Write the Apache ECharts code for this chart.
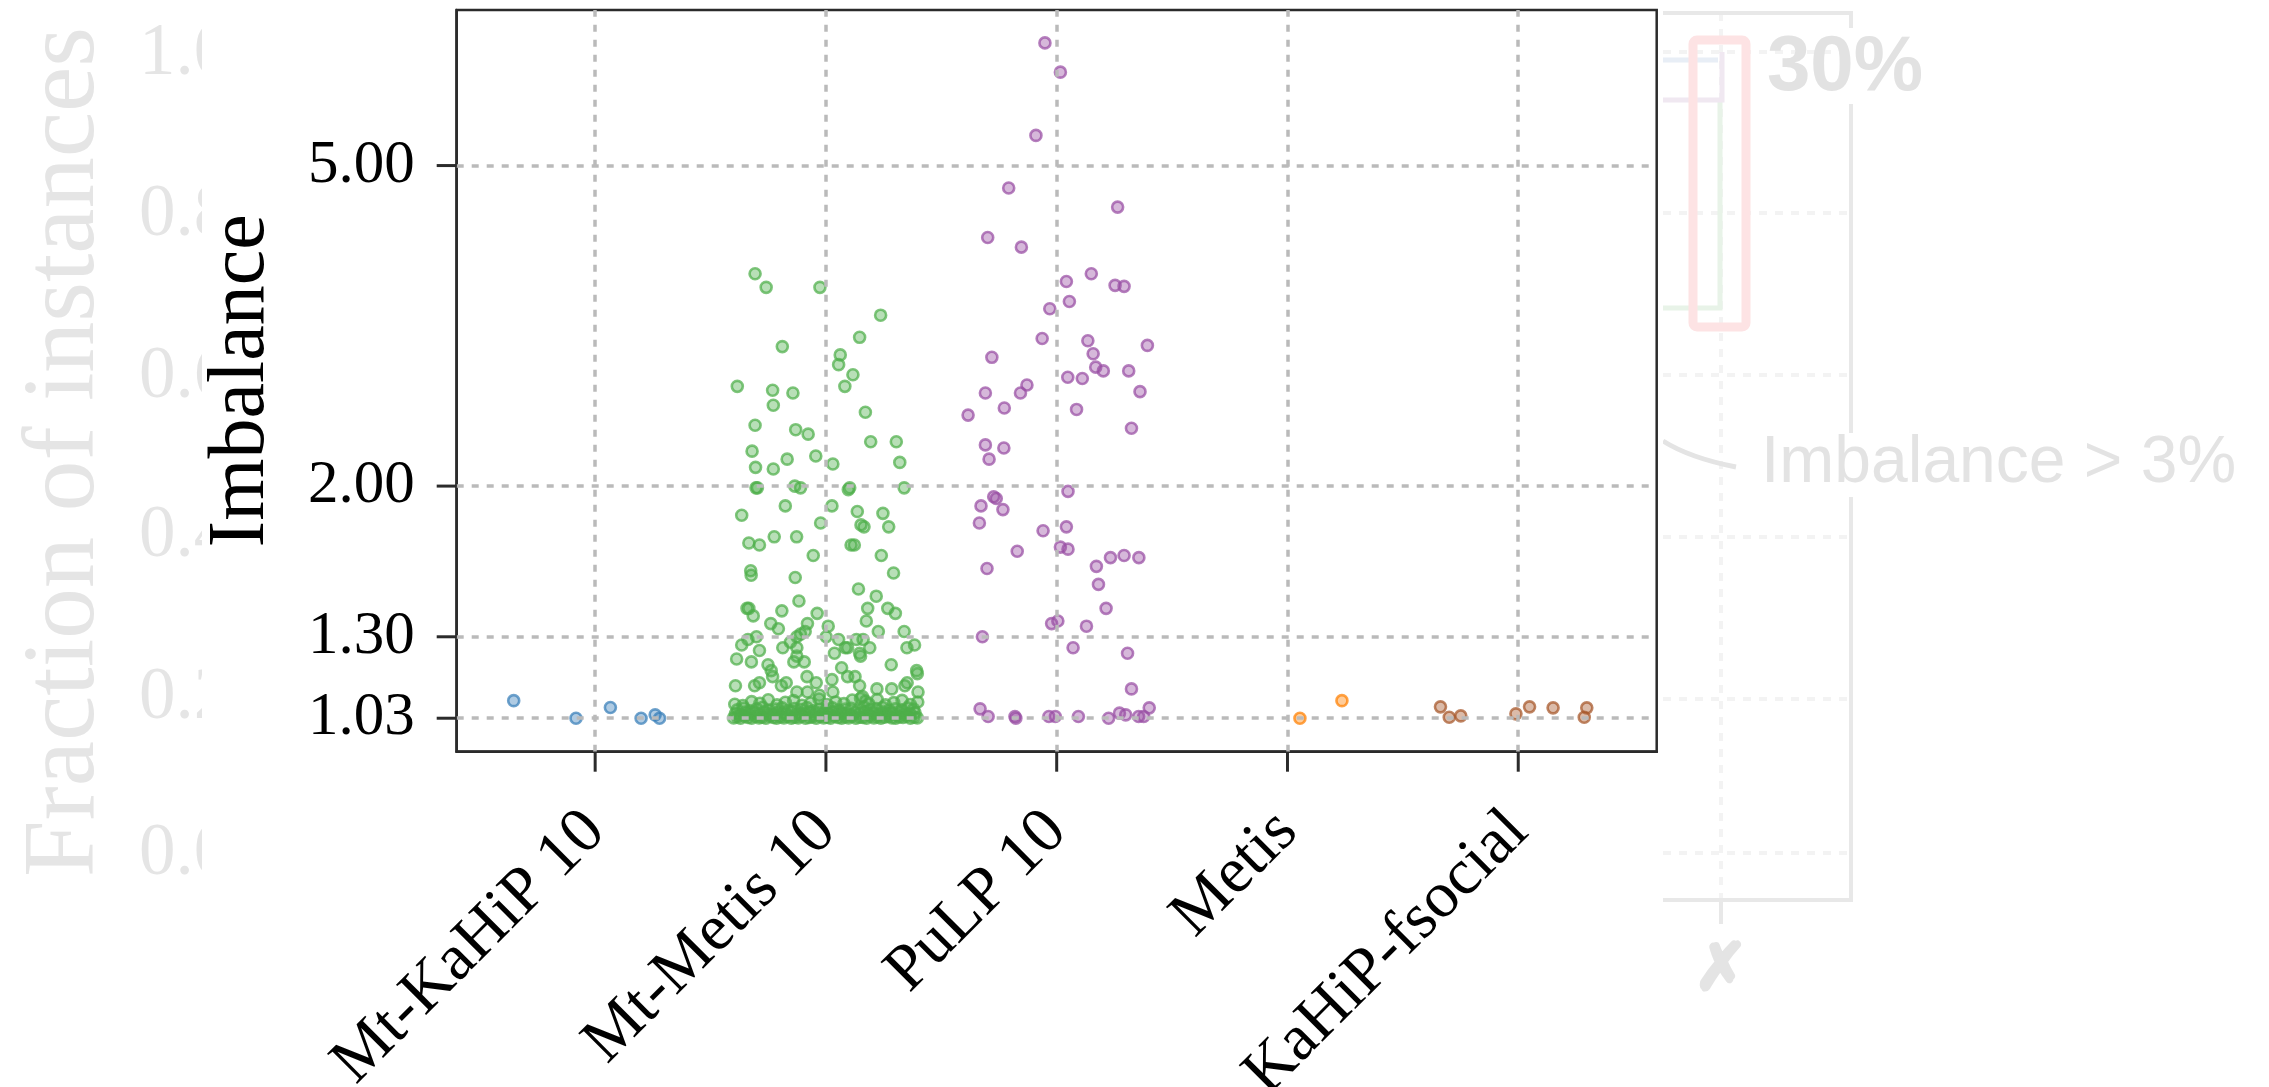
<!DOCTYPE html>
<html>
<head>
<meta charset="utf-8">
<script src="https://cdn.jsdelivr.net/npm/echarts@6/dist/echarts.min.js"></script>
<style>
  html, body { margin: 0; padding: 0; background: #fff; }
  #chart { width: 2269px; height: 1087px; }
</style>
</head>
<body>
<div id="chart"></div>
<script>
// Partitioners along the x axis, and the imbalance ticks on the log y axis
const categories = ['Mt-KaHiP 10', 'Mt-Metis 10', 'PuLP 10', 'Metis', 'KaHiP-fsocial'];
const yTicks = [1.03, 1.30, 2.00, 5.00];

// Mt-KaHiP 10 (strip jitter around its category, imbalance per instance)
const kahip10Jitter = [-0.353, -0.083, 0.066, 0.199, 0.260, 0.279];
const kahip10Imbalance = [1.083, 1.030, 1.062, 1.030, 1.040, 1.030];

// Mt-Metis 10: scattered instances above the 3% bound
const metis10SpreadJitter = [
  -0.307, -0.259, -0.026, 0.237, 0.146, -0.189, 0.062, 0.055, 0.117, -0.384,
  -0.231, -0.143, 0.082, -0.228, 0.171, -0.307, -0.131, -0.077, 0.194, 0.305,
  -0.320, -0.168, -0.044, 0.030, 0.320, -0.305, -0.228, -0.303, -0.297, -0.135,
  -0.110, 0.097, 0.103, 0.339, -0.176, 0.026, -0.365, 0.136, 0.247, -0.023,
  0.152, 0.165, 0.272, -0.334, -0.288, -0.224, -0.127, 0.109, 0.123, -0.055,
  0.240, -0.326, -0.324, -0.133, 0.293, 0.141, -0.117, 0.218, -0.342, -0.334,
  -0.315, -0.191, -0.038, 0.181, 0.268, 0.301, 0.175, -0.239, -0.206, -0.080,
  -0.090, -0.110, -0.126, 0.010, 0.227, 0.339, -0.301, -0.338, -0.365, 0.001,
  0.055, 0.132, 0.161, -0.154, -0.126, -0.187, 0.084, 0.094, 0.190, 0.384,
  0.351, -0.288, -0.387, -0.323, -0.139, -0.094, -0.126, 0.037, 0.146, 0.150,
  0.283, -0.251, -0.237, -0.231, 0.068, 0.393, 0.396, -0.082, 0.026, 0.094,
  0.126, -0.172, -0.042, 0.352, 0.342, -0.392, -0.309, -0.288, -0.193, 0.146,
  0.221, 0.285, 0.399, -0.126, -0.080, -0.028, 0.030
];
const metis10SpreadImbalance = [
  3.67, 3.53, 3.53, 3.26, 3.06, 2.98, 2.91, 2.83, 2.75, 2.66,
  2.63, 2.61, 2.66, 2.52, 2.47, 2.38, 2.35, 2.32, 2.27, 2.27,
  2.21, 2.16, 2.18, 2.13, 2.14, 2.11, 2.10, 1.99, 1.99, 2.00,
  1.99, 1.98, 1.99, 1.99, 1.89, 1.89, 1.84, 1.86, 1.85, 1.80,
  1.79, 1.78, 1.78, 1.70, 1.69, 1.73, 1.73, 1.69, 1.69, 1.64,
  1.64, 1.57, 1.55, 1.54, 1.56, 1.49, 1.44, 1.46, 1.41, 1.41,
  1.38, 1.40, 1.39, 1.41, 1.41, 1.39, 1.36, 1.35, 1.33, 1.35,
  1.32, 1.31, 1.30, 1.34, 1.32, 1.32, 1.30, 1.29, 1.27, 1.30,
  1.29, 1.29, 1.29, 1.28, 1.26, 1.26, 1.26, 1.26, 1.26, 1.27,
  1.26, 1.25, 1.22, 1.21, 1.21, 1.21, 1.23, 1.24, 1.24, 1.23,
  1.20, 1.20, 1.18, 1.16, 1.19, 1.18, 1.17, 1.16, 1.15, 1.16,
  1.16, 1.14, 1.14, 1.14, 1.13, 1.13, 1.13, 1.14, 1.13, 1.13,
  1.12, 1.12, 1.11, 1.11, 1.11, 1.10, 1.11
];

// Mt-Metis 10: the dense band of instances close to the 3% bound
const metis10BandJitter = [
  -0.400, -0.385, -0.370, -0.352, -0.338, -0.322, -0.305, -0.290, -0.276, -0.260,
  -0.244, -0.228, -0.214, -0.198, -0.182, -0.166, -0.150, -0.136, -0.120, -0.104,
  -0.088, -0.072, -0.058, -0.042, -0.026, -0.010, 0.006, 0.020, 0.036, 0.052,
  0.068, 0.082, 0.098, 0.114, 0.130, 0.146, 0.160, 0.176, 0.192, 0.208,
  0.224, 0.238, 0.254, 0.270, 0.286, 0.302, 0.318, 0.334, 0.350, 0.366,
  0.382, 0.396,
  -0.392, -0.370, -0.348, -0.330, -0.310, -0.290, -0.268, -0.250, -0.230, -0.210,
  -0.190, -0.170, -0.148, -0.128, -0.110, -0.090, -0.070, -0.050, -0.030, -0.012,
  0.010, 0.030, 0.048, 0.068, 0.088, 0.108, 0.126, 0.146, 0.166, 0.186,
  0.206, 0.226, 0.246, 0.266, 0.284, 0.304, 0.324, 0.344, 0.364, 0.386,
  -0.384, -0.356, -0.330, -0.300, -0.274, -0.246, -0.218, -0.190, -0.164, -0.136,
  -0.108, -0.082, -0.054, -0.026, 0.000, 0.028, 0.056, 0.084, 0.110, 0.138,
  0.164, 0.192, 0.218, 0.246, 0.274, 0.300, 0.328, 0.354, 0.380,
  -0.395, -0.360, -0.322, -0.286, -0.250, -0.212, -0.176, -0.140, -0.104, -0.066,
  -0.030, 0.006, 0.042, 0.078, 0.114, 0.150, 0.158, 0.172, 0.186, 0.222,
  0.258, 0.294, 0.330, 0.366, 0.398
];
const metis10BandImbalance = [
  1.031, 1.034, 1.030, 1.036, 1.032, 1.030, 1.035, 1.031, 1.033, 1.030,
  1.036, 1.032, 1.030, 1.034, 1.031, 1.035, 1.030, 1.033, 1.031, 1.036,
  1.030, 1.032, 1.034, 1.030, 1.035, 1.031, 1.033, 1.030, 1.036, 1.032,
  1.030, 1.034, 1.031, 1.035, 1.030, 1.033, 1.032, 1.030, 1.036, 1.031,
  1.034, 1.030, 1.033, 1.035, 1.031, 1.030, 1.034, 1.032, 1.036, 1.030,
  1.033, 1.031,
  1.044, 1.040, 1.048, 1.042, 1.046, 1.041, 1.049, 1.043, 1.040, 1.047,
  1.044, 1.042, 1.048, 1.041, 1.045, 1.043, 1.049, 1.040, 1.046, 1.042,
  1.044, 1.048, 1.041, 1.045, 1.043, 1.040, 1.047, 1.044, 1.049, 1.042,
  1.046, 1.041, 1.048, 1.043, 1.045, 1.040, 1.047, 1.042, 1.044, 1.046,
  1.055, 1.060, 1.052, 1.058, 1.063, 1.054, 1.057, 1.061, 1.053, 1.059,
  1.056, 1.062, 1.052, 1.058, 1.055, 1.061, 1.054, 1.057, 1.060, 1.053,
  1.064, 1.056, 1.059, 1.062, 1.054, 1.058, 1.055, 1.061, 1.057,
  1.072, 1.068, 1.080, 1.075, 1.086, 1.070, 1.078, 1.083, 1.069, 1.076,
  1.088, 1.071, 1.079, 1.074, 1.085, 1.090, 1.096, 1.082, 1.073, 1.087,
  1.070, 1.077, 1.084, 1.071, 1.079
];

// PuLP 10
const pulp10Jitter = [
  -0.051, 0.016, -0.090, -0.208, 0.264, -0.299, -0.153, 0.150, 0.042, 0.253,
  0.292, 0.055, -0.030, -0.063, 0.135, -0.281, 0.158, 0.169, 0.202, 0.312,
  0.048, 0.111, -0.129, -0.309, -0.157, 0.361, 0.393, -0.384, -0.227, 0.086,
  0.324, -0.309, -0.229, -0.293, 0.049, -0.328, -0.273, -0.262, -0.233, -0.335,
  -0.059, 0.042, 0.016, 0.049, -0.171, -0.302, 0.172, 0.233, 0.292, 0.356,
  0.181, 0.214, -0.022, 0.005, 0.129, -0.322, 0.071, 0.307, 0.324, -0.332,
  -0.297, -0.181, -0.177, -0.034, -0.006, 0.094, 0.225, 0.272, 0.299, 0.355,
  0.377, 0.401
];
const pulp10Imbalance = [
  7.10, 6.53, 5.45, 4.69, 4.44, 4.07, 3.96, 3.67, 3.59, 3.55,
  3.54, 3.39, 3.32, 3.05, 3.03, 2.89, 2.92, 2.81, 2.78, 2.78,
  2.73, 2.72, 2.67, 2.61, 2.61, 2.62, 2.99, 2.45, 2.50, 2.49,
  2.36, 2.25, 2.23, 2.16, 1.97, 1.89, 1.94, 1.93, 1.87, 1.80,
  1.76, 1.78, 1.68, 1.67, 1.66, 1.58, 1.59, 1.63, 1.64, 1.63,
  1.51, 1.41, 1.35, 1.36, 1.34, 1.30, 1.26, 1.24, 1.12, 1.058,
  1.035, 1.035, 1.030, 1.035, 1.035, 1.035, 1.030, 1.045, 1.040, 1.035,
  1.035, 1.061
];

// Metis
const metisJitter = [0.054, 0.236];
const metisImbalance = [1.030, 1.083];

// KaHiP-fsocial
const fsocialJitter = [-0.337, -0.299, -0.249, -0.010, 0.049, 0.151, 0.286, 0.297];
const fsocialImbalance = [1.064, 1.033, 1.037, 1.043, 1.064, 1.061, 1.033, 1.061];

const groups = [
  { cat: 0, color: '#377eb8', jitter: kahip10Jitter, values: kahip10Imbalance },
  { cat: 1, color: '#4daf4a', jitter: metis10BandJitter.concat(metis10SpreadJitter),
    values: metis10BandImbalance.concat(metis10SpreadImbalance) },
  { cat: 2, color: '#984ea3', jitter: pulp10Jitter, values: pulp10Imbalance },
  { cat: 3, color: '#ff7f00', jitter: metisJitter, values: metisImbalance },
  { cat: 4, color: '#a65628', jitter: fsocialJitter, values: fsocialImbalance }
];

function rgba(hex, a) {
  const n = parseInt(hex.slice(1), 16);
  return 'rgba(' + ((n >> 16) & 255) + ',' + ((n >> 8) & 255) + ',' + (n & 255) + ',' + a + ')';
}

const W = 2269, H = 1087;
const GRID = { left: 456.7, right: 612.3, top: 10, bottom: 335.3 };
const X_MIN = -0.6, X_MAX = 4.6, Y_MIN = 0.936, Y_MAX = 7.80;
const catTicks = categories.map((_, i) => i);
const serif = '"Liberation Serif", "Times New Roman", serif';
const sans = '"Liberation Sans", Arial, sans-serif';
const faint = '#e5e5e5';
const ink = '#2b2b2b';
const TICK_LEN = 20;

const gridLineStyle = { color: '#bababa', width: 3.5, type: [7, 8], cap: 'butt' };

const series = [
  {
    type: 'scatter',
    name: 'grid',
    data: [],
    silent: true,
    clip: false,
    z: 1,
    markLine: {
      silent: true,
      symbol: 'none',
      animation: false,
      label: { show: false },
      lineStyle: gridLineStyle,
      emphasis: { disabled: true },
      data: yTicks.map(v => ({ yAxis: v })).concat(catTicks.map(v => ({ xAxis: v })))
    }
  }
].concat(groups.map(g => ({
  type: 'scatter',
  name: categories[g.cat],
  z: 3,
  symbol: 'circle',
  symbolSize: 11,
  itemStyle: {
    color: rgba(g.color, 0.5),
    borderColor: rgba(g.color, 0.9),
    borderWidth: 2.6
  },
  emphasis: { disabled: true },
  data: g.jitter.map((j, i) => [g.cat + j, g.values[i]])
})));

// Faded companion panel: left axis labels (partly hidden behind this figure)
// and the right-hand inset
const ghostTickLabels = ['1.0', '0.8', '0.6', '0.4', '0.2', '0.0'];
const ghostTickY = [55, 216, 378, 537, 699, 855];
const ghostGridY = [52, 213, 375, 537, 699, 853];

const graphic = [];
graphic.push({
  type: 'text', z: -10, x: 66, y: 452, rotation: Math.PI / 2,
  style: { text: 'Fraction of instances', font: '102px ' + serif, fill: faint, align: 'center', verticalAlign: 'middle' }
});
ghostTickLabels.forEach((t, i) => graphic.push({
  type: 'text', z: -10, x: 139, y: ghostTickY[i],
  style: { text: t, font: '73px ' + serif, fill: faint, align: 'left', verticalAlign: 'middle' }
}));
// white backdrop of the main figure
graphic.push({ type: 'rect', z: -5, shape: { x: 202, y: 0, width: 1461, height: 1087 }, style: { fill: '#fff' } });

ghostGridY.forEach(y => graphic.push({
  type: 'line', z: -10, shape: { x1: 1663, y1: y, x2: 1848, y2: y },
  style: { stroke: '#f3f3f3', lineWidth: 4, lineDash: [8, 8] }
}));
graphic.push({
  type: 'line', z: -10, shape: { x1: 1721, y1: 13, x2: 1721, y2: 900 },
  style: { stroke: '#f3f3f3', lineWidth: 4, lineDash: [8, 8] }
});
graphic.push({ type: 'polyline', z: -9, shape: { points: [[1663, 13], [1851, 13], [1851, 28]] }, style: { stroke: '#e8e8e8', lineWidth: 4, fill: null } });
graphic.push({ type: 'line', z: -9, shape: { x1: 1851, y1: 104, x2: 1851, y2: 433 }, style: { stroke: '#e8e8e8', lineWidth: 4 } });
graphic.push({ type: 'polyline', z: -9, shape: { points: [[1851, 497], [1851, 900], [1663, 900]] }, style: { stroke: '#e8e8e8', lineWidth: 4, fill: null } });
graphic.push({ type: 'line', z: -9, shape: { x1: 1721, y1: 900, x2: 1721, y2: 924 }, style: { stroke: '#e8e8e8', lineWidth: 4 } });
graphic.push({ type: 'polyline', z: -9, shape: { points: [[1663, 60], [1718, 60]] }, style: { stroke: '#e8eef6', lineWidth: 5, fill: null } });
graphic.push({ type: 'polyline', z: -9, shape: { points: [[1663, 308], [1720, 308], [1720, 100]] }, style: { stroke: '#e8f3e8', lineWidth: 5, fill: null } });
graphic.push({ type: 'polyline', z: -9, shape: { points: [[1663, 100], [1722, 100], [1722, 52]] }, style: { stroke: '#f0e8f1', lineWidth: 5, fill: null } });
graphic.push({ type: 'rect', z: -8, shape: { x: 1693, y: 40, width: 53, height: 287, r: 4 }, style: { fill: null, stroke: '#fde3e4', lineWidth: 9 } });
graphic.push({
  type: 'text', z: -8, x: 1845, y: 68,
  style: { text: '30%', font: 'bold 78px ' + sans, fill: '#e2e2e2', align: 'center', verticalAlign: 'middle' }
});
graphic.push({
  type: 'text', z: -8, x: 1761, y: 464,
  style: { text: 'Imbalance > 3%', font: '66px ' + sans, fill: '#e3e3e3', align: 'left', verticalAlign: 'middle' }
});
graphic.push({
  type: 'bezierCurve', z: -8,
  shape: { x1: 1663, y1: 441, cpx1: 1690, cpy1: 458, x2: 1736, y2: 467 },
  style: { stroke: '#e4e4e4', lineWidth: 5, fill: null }
});
graphic.push({
  type: 'text', z: -8, x: 1721, y: 972,
  style: {
    text: '\u2717', font: '64px "DejaVu Sans", sans-serif', fill: '#e4e4e4',
    stroke: '#e4e4e4', lineWidth: 4, align: 'center', verticalAlign: 'middle'
  }
});

const axisStroke = { show: true, onZero: false, lineStyle: { color: ink, width: 2.5 } };

const chart = echarts.init(document.getElementById('chart'), null, { renderer: 'canvas' });
chart.setOption({
  animation: false,
  backgroundColor: '#fff',
  graphic: graphic,
  grid: {
    left: GRID.left, right: GRID.right, top: GRID.top, bottom: GRID.bottom,
    show: true, borderColor: ink, borderWidth: 2.5, backgroundColor: 'transparent',
    containLabel: false, outerBoundsMode: 'none'
  },
  xAxis: {
    type: 'value', min: X_MIN, max: X_MAX, position: 'bottom',
    axisLine: axisStroke,
    splitLine: { show: false },
    axisTick: { show: false },
    axisLabel: {
      customValues: catTicks, rotate: 45, margin: 70,
      formatter: v => categories[Math.round(v)],
      fontFamily: serif, fontSize: 65, color: '#000'
    }
  },
  yAxis: {
    type: 'log', logBase: 10, min: Y_MIN, max: Y_MAX, position: 'left',
    axisLine: axisStroke,
    splitLine: { show: false },
    axisTick: { show: false },
    axisLabel: {
      customValues: yTicks, margin: 42,
      formatter: v => Number(v).toFixed(2),
      fontFamily: serif, fontSize: 61, color: '#000'
    },
    name: 'Imbalance', nameLocation: 'middle', nameGap: 175,
    nameTextStyle: { fontFamily: serif, fontSize: 80, color: '#000' }
  },
  series: series
});

// Outward tick marks on the frame, positioned through the axes' own scales
const frameLeft = GRID.left;
const frameTop = GRID.top;
const frameBottom = H - GRID.bottom;
const inFrameY = p => typeof p === 'number' && isFinite(p) && p >= frameTop - 2 && p <= frameBottom + 2;

function tickY(v) {
  let p = chart.convertToPixel({ yAxisIndex: 0 }, v);
  if (!inFrameY(p)) p = chart.convertToPixel({ yAxisIndex: 0 }, Math.log10(v));
  return inFrameY(p) ? p : null;
}
function tickX(v) {
  const p = chart.convertToPixel({ xAxisIndex: 0 }, v);
  return (typeof p === 'number' && isFinite(p)) ? p : null;
}

const tickMarks = [];
yTicks.forEach(v => {
  const y = tickY(v);
  if (y !== null) tickMarks.push({
    type: 'line', z: 100,
    shape: { x1: frameLeft - TICK_LEN, y1: y, x2: frameLeft, y2: y },
    style: { stroke: ink, lineWidth: 3 }
  });
});
catTicks.forEach(v => {
  const x = tickX(v);
  if (x !== null) tickMarks.push({
    type: 'line', z: 100,
    shape: { x1: x, y1: frameBottom, x2: x, y2: frameBottom + TICK_LEN },
    style: { stroke: ink, lineWidth: 3 }
  });
});
chart.setOption({ graphic: graphic.concat(tickMarks) });
</script>
</body>
</html>
